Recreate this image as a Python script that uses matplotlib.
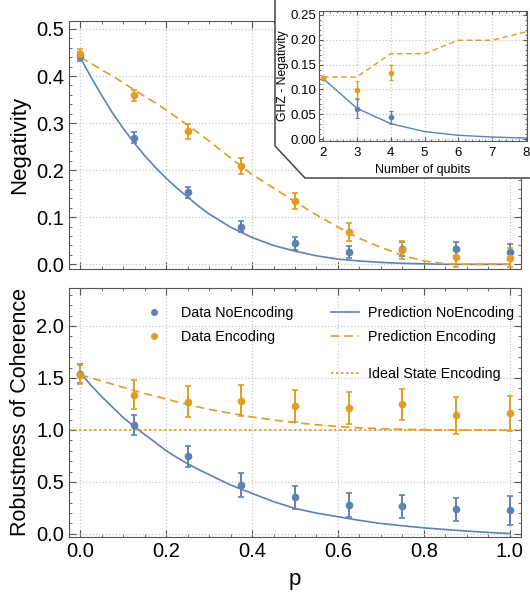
import numpy as np
import matplotlib.pyplot as plt
from matplotlib.patches import Polygon
from matplotlib.lines import Line2D
from matplotlib.ticker import MultipleLocator

plt.rcParams['font.family'] = ['Liberation Sans', 'DejaVu Sans']

BLUE = '#5E81B5'
ORANGE = '#E19C24'

# p values of the measurements
p_data = [0.0, 0.125, 0.25, 0.375, 0.5, 0.625, 0.75, 0.875, 1.0]

# negativity (top panel)
neg_noenc = [0.442, 0.269, 0.153, 0.080, 0.045, 0.026, 0.033, 0.033, 0.026]
neg_noenc_err = [0.010, 0.012, 0.012, 0.012, 0.014, 0.013, 0.015, 0.015, 0.017]
neg_enc = [0.447, 0.359, 0.283, 0.208, 0.135, 0.069, 0.031, 0.016, 0.014]
neg_enc_err = [0.010, 0.011, 0.016, 0.017, 0.017, 0.019, 0.019, 0.021, 0.020]

p_curve = [0.0, 0.025, 0.05, 0.075, 0.1, 0.125, 0.15, 0.175, 0.2, 0.225, 0.25,
           0.275, 0.3, 0.35, 0.4, 0.45, 0.5, 0.55, 0.6, 0.65, 0.7, 0.75, 0.8,
           0.85, 0.9, 0.95, 1.0]
neg_pred_noenc = [0.440, 0.398, 0.359, 0.322, 0.289, 0.259, 0.231, 0.206, 0.183,
                  0.162, 0.143, 0.124, 0.107, 0.079, 0.057, 0.040, 0.028, 0.018,
                  0.011, 0.007, 0.004, 0.002, 0.001, 0.0, 0.0, 0.0, 0.0]
neg_pred_enc = [0.440, 0.427, 0.413, 0.400, 0.386, 0.371, 0.357, 0.343, 0.328,
                0.312, 0.296, 0.279, 0.262, 0.226, 0.191, 0.162, 0.133, 0.105,
                0.079, 0.055, 0.036, 0.019, 0.007, 0.001, 0.0, 0.0, 0.0]

# robustness of coherence (bottom panel)
roc_noenc = [1.54, 1.05, 0.745, 0.47, 0.35, 0.28, 0.265, 0.235, 0.225]
roc_noenc_err = [0.09, 0.095, 0.105, 0.115, 0.115, 0.115, 0.11, 0.11, 0.14]
roc_enc = [1.53, 1.34, 1.27, 1.28, 1.23, 1.21, 1.245, 1.14, 1.16]
roc_enc_err = [0.09, 0.14, 0.15, 0.15, 0.155, 0.15, 0.153, 0.18, 0.17]

roc_pred_noenc = [1.55, 1.43, 1.32, 1.22, 1.12, 1.035, 0.955, 0.88, 0.80, 0.735,
                  0.675, 0.62, 0.57, 0.47, 0.39, 0.31, 0.245, 0.20, 0.165, 0.13,
                  0.10, 0.078, 0.058, 0.042, 0.027, 0.014, 0.003]
roc_pred_enc = [1.53, 1.50, 1.47, 1.44, 1.41, 1.38, 1.35, 1.325, 1.297, 1.27,
                1.245, 1.22, 1.198, 1.16, 1.125, 1.095, 1.07, 1.05, 1.033, 1.02,
                1.012, 1.006, 1.002, 1.0, 0.998, 0.997, 0.996]
ideal_enc = 1.0

# inset: GHZ negativity vs number of qubits
qubits = [2, 3, 4, 5, 6, 7, 8]
ghz_pred_noenc = [0.122, 0.062, 0.031, 0.015, 0.0075, 0.004, 0.002]
ghz_pred_enc = [0.125, 0.125, 0.172, 0.172, 0.199, 0.199, 0.216]
ghz_q_data = [2, 3, 4]
ghz_noenc = [0.122, 0.061, 0.044]
ghz_noenc_err = [0.002, 0.019, 0.013]
ghz_enc = [0.122, 0.099, 0.134]
ghz_enc_err = [0.002, 0.017, 0.016]

W, H = 530, 593


def px_axes(x0, y0, x1, y1):
    return [x0 / W, 1 - y1 / H, (x1 - x0) / W, (y1 - y0) / H]


def style(ax, xminor, yminor, size=14.5):
    for s in ax.spines.values():
        s.set_color('#555555')
    ax.tick_params(which='both', direction='in', top=True, right=True,
                   color='#555555', labelsize=size)
    ax.tick_params(which='major', length=5)
    ax.tick_params(which='minor', length=2.5)
    ax.xaxis.set_minor_locator(MultipleLocator(xminor))
    ax.yaxis.set_minor_locator(MultipleLocator(yminor))
    ax.grid(True, which='major', color='#c8c8c8', linestyle=':', linewidth=0.9)
    ax.set_axisbelow(True)


fig = plt.figure(figsize=(W / 100, H / 100), dpi=100)

eb = dict(fmt='o', ms=4.5, capsize=2.2, elinewidth=1.4, capthick=1.2)

# top panel
ax1 = fig.add_axes(px_axes(69, 21, 521, 269))
ax1.plot(p_curve, neg_pred_noenc, color=BLUE, lw=1.2)
ax1.plot(p_curve, neg_pred_enc, color=ORANGE, lw=1.2, dashes=(5, 3))
ax1.errorbar(p_data, neg_noenc, yerr=neg_noenc_err, color=BLUE, **eb)
ax1.errorbar(p_data, neg_enc, yerr=neg_enc_err, color=ORANGE, **eb)
ax1.set_xlim(-0.026, 1.026)
ax1.set_ylim(-0.01, 0.517)
ax1.set_xticks(np.arange(0, 1.01, 0.2))
ax1.set_yticks(np.arange(0, 0.51, 0.1))
ax1.set_yticklabels(['%.1f' % v for v in np.arange(0, 0.51, 0.1)])
ax1.tick_params(labelbottom=False)
style(ax1, 0.05, 0.02)
ax1.set_ylabel('Negativity', fontsize=16, labelpad=4)

# bottom panel
ax2 = fig.add_axes(px_axes(69, 288, 521, 537))
ax2.plot(p_curve, roc_pred_noenc, color=BLUE, lw=1.2)
ax2.plot(p_curve, roc_pred_enc, color=ORANGE, lw=1.2, dashes=(5, 3))
ax2.axhline(ideal_enc, color=ORANGE, lw=1.2, dashes=(1.5, 1.5))
ax2.errorbar(p_data, roc_noenc, yerr=roc_noenc_err, color=BLUE, **eb)
ax2.errorbar(p_data, roc_enc, yerr=roc_enc_err, color=ORANGE, **eb)
ax2.set_xlim(-0.026, 1.026)
ax2.set_ylim(-0.03, 2.365)
ax2.set_xticks(np.arange(0, 1.01, 0.2))
ax2.set_xticklabels(['%.1f' % v for v in np.arange(0, 1.01, 0.2)])
ax2.set_yticks(np.arange(0, 2.01, 0.5))
ax2.set_yticklabels(['%.1f' % v for v in np.arange(0, 2.01, 0.5)])
style(ax2, 0.05, 0.1)
ax2.set_ylabel('Robustness of Coherence', fontsize=15.5, labelpad=4)
ax2.set_xlabel('p', fontsize=16, labelpad=6)

leg_kw = dict(frameon=False, fontsize=10.3, labelspacing=0.75, borderaxespad=0)
h_data = [Line2D([], [], color=BLUE, marker='o', ls='', ms=4),
          Line2D([], [], color=ORANGE, marker='o', ls='', ms=4)]
l1 = ax2.legend(h_data, ['Data NoEncoding', 'Data Encoding'], loc='upper left',
                bbox_to_anchor=(0.159, 0.952), handlelength=1.0,
                handletextpad=1.4, **leg_kw)
ax2.add_artist(l1)
h_pred = [Line2D([], [], color=BLUE, lw=1.2),
          Line2D([], [], color=ORANGE, lw=1.2, dashes=(5, 3))]
l2 = ax2.legend(h_pred, ['Prediction NoEncoding', 'Prediction Encoding'],
                loc='upper left', bbox_to_anchor=(0.566, 0.952),
                handlelength=2.0, handletextpad=0.63, **leg_kw)
ax2.add_artist(l2)
h_ideal = [Line2D([], [], color=ORANGE, lw=1.2, dashes=(1.5, 1.5))]
ax2.legend(h_ideal, ['Ideal State Encoding'], loc='upper left',
           bbox_to_anchor=(0.566, 0.707), handlelength=2.0,
           handletextpad=0.63, **leg_kw)

# inset frame
frame_px = [(275, -5), (275, 146), (305, 178), (540, 178), (540, -5)]
frame = Polygon([(x / W, 1 - y / H) for x, y in frame_px], closed=True,
                transform=fig.transFigure, facecolor='white',
                edgecolor='#444444', lw=1.1, zorder=1)
fig.add_artist(frame)

ax3 = fig.add_axes(px_axes(319, 11, 527, 141), zorder=2)
ax3.plot(qubits, ghz_pred_noenc, color=BLUE, lw=1.0)
ax3.plot(qubits, ghz_pred_enc, color=ORANGE, lw=1.0, dashes=(4, 2.5))
ax3.errorbar(ghz_q_data, ghz_noenc, yerr=ghz_noenc_err, color=BLUE, fmt='o',
             ms=3, capsize=1.5, elinewidth=1.0, capthick=0.8)
ax3.errorbar(ghz_q_data, ghz_enc, yerr=ghz_enc_err, color=ORANGE, fmt='o',
             ms=3, capsize=1.5, elinewidth=1.0, capthick=0.8)
ax3.set_xlim(1.88, 8.03)
ax3.set_ylim(-0.004, 0.258)
ax3.set_xticks(qubits)
ax3.set_yticks(np.arange(0, 0.251, 0.05))
ax3.set_yticklabels(['%.2f' % v for v in np.arange(0, 0.251, 0.05)])
style(ax3, 0.2, 0.01, size=9.5)
ax3.tick_params(which='major', length=3, pad=2)
ax3.tick_params(axis='x', which='major', pad=4)
ax3.tick_params(which='minor', length=1.5)
ax3.set_xlabel('Number of qubits', fontsize=9, labelpad=4)
ax3.set_ylabel('GHZ - Negativity', fontsize=8.8, labelpad=1)

fig.savefig('out.png', dpi=100)
